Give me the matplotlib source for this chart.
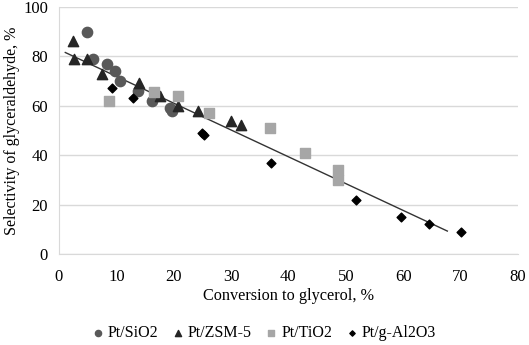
import numpy as np
import matplotlib.pyplot as plt

plt.rcParams['font.family'] = ['Liberation Serif', 'DejaVu Serif']

# data
sio2_x = [4.8, 6.0, 8.3, 9.8, 10.7, 13.7, 16.3, 19.3, 19.7]
sio2_y = [90, 79, 77, 74, 70, 66, 62, 59, 58]

zsm_x = [2.4, 2.6, 4.8, 7.5, 14.0, 17.6, 20.7, 24.3, 30.0, 31.8]
zsm_y = [86, 79, 79, 73, 69, 64, 60, 58, 54, 52]

tio2_x = [8.8, 16.5, 20.8, 26.2, 36.8, 42.9, 48.7, 48.7]
tio2_y = [62, 65.5, 64, 57, 51, 41, 34, 30]

al2o3_x = [9.3, 12.9, 25.0, 25.2, 36.9, 51.7, 59.6, 64.5, 70.0]
al2o3_y = [67, 63, 49, 48, 37, 22, 15, 12, 9]

x_ticks = [0, 10, 20, 30, 40, 50, 60, 70, 80]
y_ticks = [0, 20, 40, 60, 80, 100]

fig = plt.figure(figsize=(5.29, 3.45), dpi=100)
ax = fig.add_axes([0.1115, 0.264, 0.8675, 0.716])

ax.scatter(sio2_x, sio2_y, marker='o', s=55, color='#595959', label='Pt/SiO2', zorder=3)
ax.scatter(zsm_x, zsm_y, marker='^', s=55, color='#262626', label='Pt/ZSM-5', zorder=3)
ax.scatter(tio2_x, tio2_y, marker='s', s=45, color='#a6a6a6', label='Pt/TiO2', zorder=3)
ax.scatter(al2o3_x, al2o3_y, marker='D', s=20, color='#000000', label='Pt/g-Al2O3', zorder=3)

# linear trend line over all points
all_x = np.array(sio2_x + zsm_x + tio2_x + al2o3_x)
all_y = np.array(sio2_y + zsm_y + tio2_y + al2o3_y)
k, b = np.polyfit(all_x, all_y, 1)
tx = np.array([1.1, 67.7])
ax.plot(tx, k * tx + b, color='#333333', lw=1.0, zorder=2)

ax.set_xlim(0, 80)
ax.set_ylim(0, 100)
ax.set_xticks(x_ticks)
ax.set_yticks(y_ticks)
ax.tick_params(length=0, labelsize=12)
ax.tick_params(axis='x', pad=11)
ax.tick_params(axis='y', pad=8)
ax.grid(axis='y', color='#d9d9d9', lw=1)
ax.set_axisbelow(True)
for s in ['top', 'right']:
    ax.spines[s].set_visible(False)
ax.spines['left'].set_color('#d9d9d9')
ax.spines['bottom'].set_color('#d9d9d9')

ax.set_xlabel('Conversion to glycerol, %', fontsize=11.7, labelpad=2)
ax.set_ylabel('Selectivity of glyceraldehyde, %', fontsize=11.5, labelpad=2)

fig.legend(loc='center', bbox_to_anchor=(0.5, 0.035), ncol=4, frameon=False,
           fontsize=11.5, handlelength=0.6, handletextpad=0.35, columnspacing=0.9,
           markerscale=0.6, borderpad=0)

fig.savefig('out.png', dpi=100)
